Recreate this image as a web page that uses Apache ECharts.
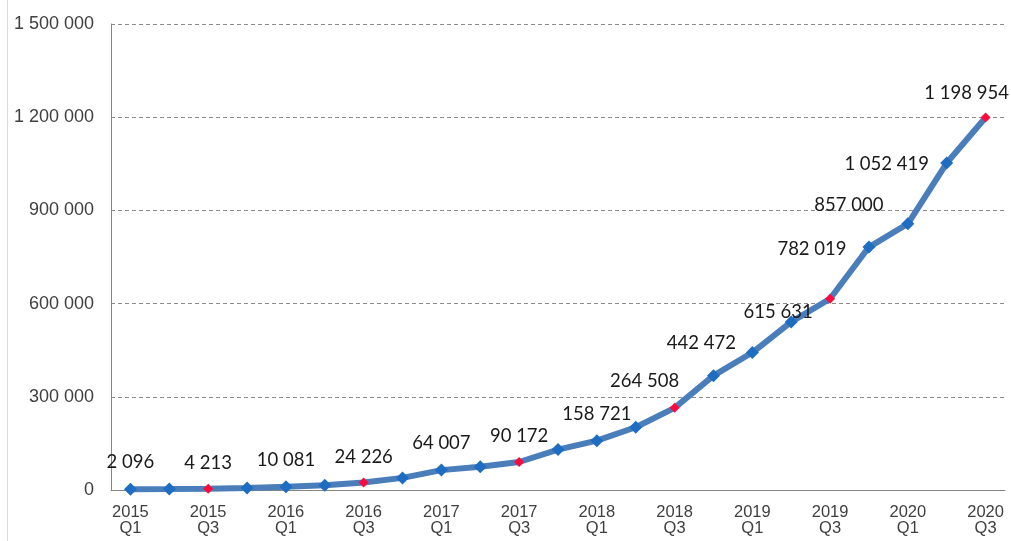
<!DOCTYPE html>
<html>
<head>
<meta charset="utf-8">
<style>
  html, body { margin: 0; padding: 0; background: #ffffff; }
  #chart { width: 1011px; height: 541px; }
</style>
<script src="https://cdn.jsdelivr.net/npm/echarts@6/dist/echarts.min.js"></script>
</head>
<body>
<div id="chart"></div>
<script>
// Quarterly cumulative totals, 2015 Q1 – 2020 Q3
const quarters = [
  '2015 Q1', '2015 Q2', '2015 Q3', '2015 Q4',
  '2016 Q1', '2016 Q2', '2016 Q3', '2016 Q4',
  '2017 Q1', '2017 Q2', '2017 Q3', '2017 Q4',
  '2018 Q1', '2018 Q2', '2018 Q3', '2018 Q4',
  '2019 Q1', '2019 Q2', '2019 Q3', '2019 Q4',
  '2020 Q1', '2020 Q2', '2020 Q3'
];
const totals = [
  2096, 3000, 4213, 6500,
  10081, 15000, 24226, 39000,
  64007, 75000, 90172, 130000,
  158721, 202000, 264508, 368000,
  442472, 541000, 615631, 782019,
  857000, 1052419, 1198954
];
// Quarters whose value is written on the chart
const labelledQuarters = [
  '2015 Q1', '2015 Q3', '2016 Q1', '2016 Q3', '2017 Q1', '2017 Q3',
  '2018 Q1', '2018 Q3', '2019 Q1', '2019 Q3', '2019 Q4', '2020 Q1',
  '2020 Q2', '2020 Q3'
];
const yTicks = [0, 300000, 600000, 900000, 1200000, 1500000];

// Label nudges where the value text sits beside the line instead of above it
const labelNudge = {
  '2018 Q3': [-30, -1],
  '2019 Q1': [-51, 17],
  '2019 Q3': [-52, 39],
  '2019 Q4': [-57, 29],
  '2020 Q1': [-59, 8],
  '2020 Q2': [-60, 28],
  '2020 Q3': [-19, 1]
};

function spaced(n) {
  return String(n).replace(/\B(?=(\d{3})+(?!\d))/g, ' ');
}

const seriesData = totals.map(function (v, i) {
  const q = quarters[i];
  const isQ3 = q.endsWith('Q3');
  const item = {
    value: v,
    symbolSize: isQ3 ? 10 : 13,
    itemStyle: { color: isQ3 ? '#ff0a3c' : '#1f6dc2' },
    label: { show: labelledQuarters.indexOf(q) >= 0 }
  };
  if (labelNudge[q]) item.label.offset = labelNudge[q];
  return item;
});

const chart = echarts.init(document.getElementById('chart'), null, { renderer: 'canvas' });
chart.setOption({
  animation: false,
  backgroundColor: '#ffffff',
  grid: { left: 111, right: 6, top: 24, bottom: 51, containLabel: false },
  graphic: [{
    type: 'line',
    shape: { x1: 7.5, y1: 0, x2: 7.5, y2: 541 },
    style: { stroke: '#d9d9d9', lineWidth: 1 }
  }],
  xAxis: {
    type: 'category',
    data: quarters,
    boundaryGap: true,
    axisLine: { show: true, lineStyle: { color: '#868686', width: 1 } },
    axisTick: { show: false },
    axisLabel: {
      interval: 1,
      color: '#404040',
      fontFamily: 'Liberation Sans, Arial, sans-serif',
      fontSize: 16.5,
      lineHeight: 16,
      margin: 14,
      formatter: function (v) { return v.replace(' ', '\n'); }
    }
  },
  yAxis: {
    type: 'value',
    min: yTicks[0],
    max: yTicks[yTicks.length - 1],
    interval: yTicks[1] - yTicks[0],
    axisLine: { show: true, lineStyle: { color: '#868686', width: 1 } },
    axisTick: { show: false },
    splitLine: { show: true, lineStyle: { color: '#8c8c8c', type: [4, 3], width: 1 } },
    axisLabel: {
      color: '#404040',
      fontFamily: 'Liberation Sans, Arial, sans-serif',
      fontSize: 18,
      margin: 17,
      formatter: function (v) { return spaced(v); }
    }
  },
  series: [{
    type: 'line',
    data: seriesData,
    symbol: 'diamond',
    showAllSymbol: true,
    lineStyle: { color: '#4a7ebb', width: 6 },
    z: 3,
    label: {
      position: 'top',
      distance: 11,
      color: '#1a1a1a',
      fontFamily: 'Lato, sans-serif',
      fontSize: 18.5,
      formatter: function (p) { return spaced(p.value); }
    }
  }]
});
</script>
</body>
</html>
